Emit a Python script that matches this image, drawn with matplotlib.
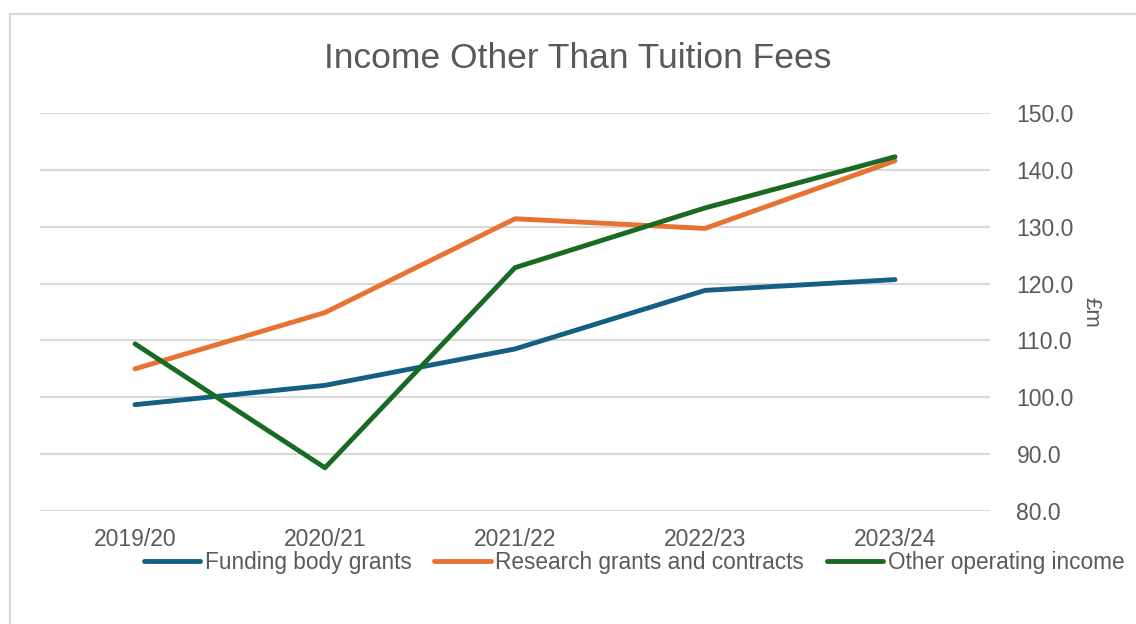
import matplotlib.pyplot as plt
from matplotlib.patches import Rectangle
from matplotlib.ticker import FormatStrFormatter

# data (£m)
years = ["2019/20", "2020/21", "2021/22", "2022/23", "2023/24"]
funding_body = [98.7, 102.1, 108.5, 118.8, 120.7]
research = [105.0, 114.9, 131.4, 129.7, 141.6]
other_income = [109.4, 87.6, 122.8, 133.3, 142.3]

plt.rcParams["font.family"] = ["Liberation Sans", "DejaVu Sans"]
text_grey = "#595959"
grid_grey = "#D9D9D9"

fig = plt.figure(figsize=(11.36, 6.24), dpi=100)
ax = fig.add_axes([40 / 1136, 1 - 511 / 624, 950 / 1136, 398 / 624])

x = list(range(len(years)))
ax.plot(x, funding_body, color="#156082", lw=3.5, label="Funding body grants",
        solid_capstyle="round", solid_joinstyle="round")
ax.plot(x, research, color="#E97132", lw=3.5, label="Research grants and contracts",
        solid_capstyle="round", solid_joinstyle="round")
ax.plot(x, other_income, color="#196B24", lw=3.5, label="Other operating income",
        solid_capstyle="round", solid_joinstyle="round")

ax.set_xlim(-0.5, len(years) - 0.5)
ax.set_ylim(80, 150)
ax.set_yticks(range(80, 151, 10))
ax.yaxis.set_major_formatter(FormatStrFormatter("%.1f"))
ax.set_xticks(x)
ax.set_xticklabels(years)

ax.yaxis.tick_right()
ax.yaxis.set_label_position("right")
ax.set_ylabel("£m", rotation=270, color=text_grey, fontsize=16, labelpad=20)
ax.tick_params(axis="both", length=0, colors=text_grey, labelsize=16.5)
ax.tick_params(axis="y", pad=19)
ax.tick_params(axis="x", pad=12)

ax.grid(axis="y", color=grid_grey, lw=1.5)
ax.set_axisbelow(True)
for s in ax.spines.values():
    s.set_visible(False)

fig.text(578 / 1136, 1 - 58 / 624, "Income Other Than Tuition Fees",
         ha="center", va="center", fontsize=25.5, color=text_grey)

leg = fig.legend(loc="center", bbox_to_anchor=(634 / 1136, 1 - 562 / 624), ncol=3,
                 frameon=False, fontsize=16.3, handlelength=2.5, handletextpad=0.2,
                 columnspacing=1.0, borderpad=0)
for t in leg.get_texts():
    t.set_color(text_grey)

# chart frame
fig.patches.append(Rectangle((10 / 1136, -0.1), 1.2, 1 - 14 / 624 + 0.1,
                             transform=fig.transFigure, fill=False,
                             edgecolor=grid_grey, lw=1.5))

fig.savefig("out.png", dpi=100)
